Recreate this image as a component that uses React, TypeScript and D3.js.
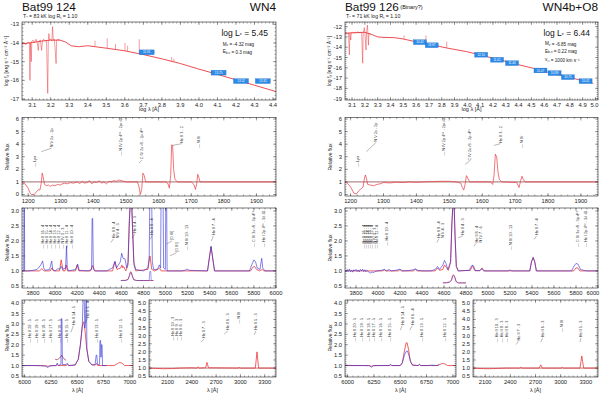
import React from "react";
import * as d3 from "d3";

type Pt = [number, number];
type Spike = [number, number, number];
type Phot = [number, number, string];
type Note = [number, number, string, number?, number?];

const FONT = "Liberation Sans, Arial, Helvetica, sans-serif";
const RED = "#ea3a40";
const BLUE = "#2626d6";
const CONT = "#7a2c2c";

// ---------- axis ticks ----------
const sedTicksA = [3.1, 3.2, 3.3, 3.4, 3.5, 3.6, 3.7, 3.8, 3.9, 4.0, 4.1, 4.2, 4.3, 4.4];
const sedTicksB = [3.1, 3.2, 3.3, 3.4, 3.5, 3.6, 3.7, 3.8, 3.9, 4.0, 4.1, 4.2, 4.3, 4.4, 4.5, 4.6, 4.7, 4.8, 4.9, 5.0];
const sedYTicksA = [-13, -14, -15, -16, -17];
const sedYTicksB = [-12, -13, -14, -15, -16, -17, -18, -19];
const uvTicks = [1200, 1300, 1400, 1500, 1600, 1700, 1800, 1900];
const uvYTicks = [0, 1, 2, 3, 4, 5, 6];
const optTicks = [3800, 4000, 4200, 4400, 4600, 4800, 5000, 5200, 5400, 5600, 5800, 6000];
const optYTicks = [0.5, 1.0, 1.5, 2.0, 2.5, 3.0];
const haTicks = [6000, 6250, 6500, 6750, 7000];
const haYTicks = [0.5, 1.0, 1.5, 2.0, 2.5, 3.0, 3.5, 4.0];
const irTicks = [2100, 2400, 2700, 3000, 3300];
const irYTicks = [0.5, 1.0, 1.5, 2.0, 2.5, 3.0, 3.5, 4.0, 4.5, 5.0];

// ---------- Bat99 124 : SED ----------
const sedModelA: Pt[] = [[3.045, -14.05], [3.1, -13.98], [3.15, -13.9], [3.2, -13.85], [3.25, -13.85], [3.28, -13.95], [3.31, -14.15], [3.35, -14.2], [3.4, -14.15], [3.5, -14.28], [3.6, -14.42], [3.7, -14.62], [3.8, -14.85], [3.9, -15.1], [4.0, -15.4], [4.1, -15.68], [4.2, -15.97], [4.3, -16.26], [4.416, -16.6]];
const sedObsA: Pt[] = [[3.045, -14.05], [3.055, -14.0], [3.065, -14.1], [3.075, -13.95], [3.085, -14.0], [3.088, -16.0], [3.091, -14.0], [3.095, -15.0], [3.098, -13.9], [3.105, -13.85], [3.112, -14.0], [3.12, -13.8], [3.127, -13.95], [3.133, -14.4], [3.137, -13.9], [3.144, -13.85], [3.151, -14.4], [3.155, -13.9], [3.162, -13.8], [3.17, -13.9], [3.177, -13.85], [3.184, -16.7], [3.187, -13.9], [3.19, -13.5], [3.194, -13.85], [3.2, -13.8], [3.206, -13.9], [3.21, -13.13], [3.214, -13.85], [3.22, -13.8], [3.229, -15.1], [3.232, -13.85], [3.24, -13.8], [3.25, -13.85]];
const sedSpikesA: Spike[] = [[3.439, -14.17, -13.88], [3.505, -14.27, -13.75], [3.55, -14.34, -14.05], [3.601, -14.42, -14.0], [3.615, -14.45, -14.15], [3.678, -14.58, -13.8], [3.853, -14.98, -14.76], [3.865, -15.01, -14.85]];
const photA: Phot[] = [[3.718, -14.5, "15.91"], [4.106, -15.59, "13.75"], [4.227, -16.04, "13.52"], [4.345, -16.04, "13.32"]];

// ---------- Bat99 124 : UV ----------
const uvA: Pt[] = [[1181, 0.9], [1190, 0.85], [1200, 0.5], [1205, 0.15], [1210, 0.0], [1218, 0.0], [1225, 0.2], [1232, 0.4], [1236, 0.35], [1240, 0.9], [1243, 1.7], [1246, 1.4], [1250, 0.8], [1256, 0.7], [1262, 0.75], [1268, 0.65], [1275, 0.75], [1282, 0.7], [1290, 0.8], [1298, 0.75], [1305, 0.85], [1312, 0.9], [1320, 0.85], [1330, 0.95], [1338, 0.9], [1345, 0.95], [1352, 1.0], [1358, 0.85], [1365, 1.05], [1372, 0.9], [1380, 0.95], [1388, 1.1], [1395, 0.85], [1402, 1.0], [1410, 0.95], [1418, 1.1], [1425, 0.9], [1432, 1.0], [1440, 0.85], [1448, 1.05], [1455, 1.0], [1462, 1.1], [1470, 1.05], [1478, 1.15], [1486, 1.1], [1494, 1.05], [1500, 1.0], [1520, 1.0], [1535, 1.0], [1540, 0.6], [1544, 0.0], [1548, 0.4], [1552, 1.7], [1556, 1.5], [1560, 1.0], [1620, 1.0], [1628, 0.9], [1633, 0.5], [1637, 1.5], [1640, 3.95], [1643, 3.9], [1646, 2.0], [1650, 1.2], [1658, 1.0], [1700, 1.0], [1708, 0.8], [1713, 0.4], [1717, 0.9], [1720, 1.6], [1723, 1.4], [1727, 1.0], [1960, 1.0]];
const uvNotesA: Note[] = [[1221, 2.2, "— Lyα"], [1272, 3.75, "N V 2s - 2p", 1240, 3.4], [1484, 3.1, "— N IV 2p ¹P° - 2p² ¹D"], [1549, 2.8, "C IV 2s ²S - 2p ²P°", 1540, 2.5], [1671, 4.1, "He II 3 - 2", 1642, 3.9], [1722, 3.7, "— N IV"]];

// ---------- Bat99 124 : optical ----------
const optModelA: Pt[] = [[3700, 1.0], [3860, 1.0], [3880, 1.08], [3900, 1.0], [3955, 1.0], [3970, 1.1], [3985, 1.0], [4040, 1.0], [4055, 1.37], [4072, 1.0], [4090, 1.0], [4100, 1.2], [4112, 1.0], [4185, 1.0], [4200, 1.2], [4215, 1.0], [4320, 1.0], [4340, 1.18], [4360, 1.0], [4520, 1.0], [4541, 1.3], [4560, 1.05], [4595, 1.1], [4604, 1.2], [4612, 1.1], [4620, 1.15], [4640, 1.0], [4660, 1.2], [4672, 2.6], [4682, 3.5], [4692, 3.5], [4702, 2.4], [4714, 1.2], [4730, 1.0], [4840, 1.05], [4859, 1.5], [4875, 1.05], [4900, 1.0], [4930, 1.05], [4945, 1.1], [4960, 1.0], [5380, 1.0], [5398, 1.5], [5411, 1.8], [5424, 1.5], [5442, 1.0], [5770, 1.0], [5790, 1.12], [5805, 1.15], [5825, 1.05], [5850, 1.0], [5875, 1.05], [5890, 1.0], [6000, 1.0]];
const optObsA: Pt[] = [[3700, 1.0], [3716, 1.0], [3718, 3.3], [3722, 3.3], [3724, 1.0], [3760, 1.0], [3800, 1.02], [3835, 1.05], [3850, 1.1], [3870, 1.2], [3887, 1.33], [3897, 1.1], [3910, 1.02], [3950, 1.05], [3969, 1.33], [3978, 1.05], [4000, 1.0], [4026, 1.08], [4040, 1.05], [4055, 1.15], [4068, 1.05], [4095, 1.1], [4103, 1.84], [4110, 1.1], [4122, 1.0], [4185, 1.05], [4204, 1.23], [4218, 1.02], [4300, 1.0], [4330, 1.05], [4335, 2.75], [4340, 2.75], [4346, 1.05], [4360, 1.0], [4470, 1.0], [4490, 1.05], [4520, 1.1], [4542, 1.33], [4556, 1.1], [4590, 1.3], [4603, 1.59], [4615, 1.42], [4633, 1.4], [4648, 1.1], [4660, 1.3], [4672, 2.7], [4682, 3.3], [4692, 3.3], [4700, 2.5], [4712, 1.3], [4730, 1.05], [4800, 1.0], [4840, 1.1], [4852, 1.5], [4857, 3.3], [4875, 3.3], [4880, 1.3], [4892, 1.05], [4925, 1.05], [4944, 1.2], [4955, 1.1], [4959, 3.3], [4978, 3.3], [4982, 1.1], [4998, 1.05], [5002, 3.3], [5010, 3.3], [5014, 1.0], [5150, 1.0], [5180, 1.03], [5192, 1.06], [5215, 1.02], [5380, 1.0], [5396, 1.4], [5412, 1.83], [5428, 1.4], [5445, 1.0], [5760, 1.0], [5780, 1.2], [5801, 1.37], [5815, 1.3], [5830, 1.1], [5855, 1.05], [5865, 1.3], [5871, 1.42], [5880, 1.1], [5900, 1.0], [6000, 1.0]];
const insetModelA: Pt[] = [[4595, 0.68], [4640, 0.69], [4660, 0.72], [4672, 0.84], [4681, 0.97], [4690, 0.96], [4700, 0.83], [4712, 0.71], [4740, 0.68], [4800, 0.68], [4890, 0.68]];
const insetObsA: Pt[] = [[4595, 0.68], [4640, 0.68], [4660, 0.71], [4672, 0.82], [4681, 0.94], [4690, 0.93], [4700, 0.8], [4712, 0.7], [4740, 0.68], [4852, 0.68], [4857, 0.98], [4866, 0.98], [4870, 0.68], [4890, 0.68]];
const optNotesA: Note[] = [[3890, 1.75, "— He II 16 - 4"], [3926, 1.75, "— He II 15 - 4"], [3963, 1.75, "— He II 14 - 4"], [3999, 1.75, "— He II 13 - 4"], [4035, 1.75, "— He II 12 - 4"], [4071, 1.75, "— N IV 3 - 3"], [4108, 1.75, "— He II 11 - 4"], [4153, 1.75, "— He II 10 - 4"], [4527, 2.09, "He II 9 - 4", 4505, 1.95], [4563, 2.09, "N V 4 - 3"], [4724, 2.27, "He II 4 - 3", 4700, 2.1], [4875, 2.2, "He II 8 - 4", 4860, 2.05], [5060, 2.03, "[O III]", 5010, 1.9], [5100, 1.64, "[O III]", 5040, 1.5], [5192, 1.7, "— N IV 10 - 13"], [5433, 2.2, "He II 7 - 4", 5415, 2.0], [5801, 1.8, "— C IV 3s ²S - 3p ²P°"], [5886, 1.8, "— He I 2p ³P° - 3d ³D"]];

// ---------- Bat99 124 : H-alpha ----------
const haModelA: Pt[] = [[5975, 1.0], [6150, 1.0], [6225, 0.97], [6260, 1.0], [6300, 1.0], [6310, 1.04], [6320, 1.0], [6395, 1.0], [6406, 1.05], [6420, 1.0], [6480, 1.02], [6510, 1.3], [6530, 2.0], [6548, 2.9], [6560, 3.1], [6572, 2.8], [6590, 1.8], [6610, 1.2], [6640, 1.03], [6670, 1.02], [6683, 1.1], [6695, 1.0], [6850, 1.0], [6875, 1.07], [6900, 1.15], [6925, 1.12], [6950, 1.0], [7030, 1.0]];
const haObsA: Pt[] = [[5975, 1.0], [6100, 1.0], [6200, 0.98], [6222, 0.9], [6235, 0.98], [6300, 1.0], [6310, 1.12], [6320, 1.0], [6345, 1.05], [6349, 3.25], [6355, 3.25], [6359, 1.05], [6395, 1.05], [6406, 1.12], [6420, 1.0], [6480, 1.03], [6510, 1.3], [6530, 2.0], [6548, 2.9], [6556, 4.3], [6566, 4.3], [6572, 2.8], [6578, 3.0], [6583, 4.3], [6588, 4.3], [6592, 1.8], [6610, 1.2], [6640, 1.03], [6670, 1.05], [6680, 1.5], [6686, 1.5], [6692, 1.05], [6712, 1.05], [6716, 2.2], [6722, 2.2], [6726, 1.4], [6730, 2.0], [6736, 2.0], [6740, 1.0], [6780, 1.0]];
const haInsetA: Pt[] = [[6290, 1.3], [6310, 1.28], [6330, 1.35], [6345, 1.45], [6352, 1.5], [6360, 1.42], [6375, 1.32], [6395, 1.25]];
const haNotesA: Note[] = [[6051, 2.1, "— He II 20 - 5"], [6118, 2.1, "— He II 19 - 5"], [6184, 2.1, "— He II 18 - 5"], [6251, 2.1, "— He II 17 - 5"], [6336, 2.1, "— He II 16 - 5"], [6403, 2.1, "— He II 15 - 5"], [6463, 2.95, "He II 14 - 5", 6440, 2.6], [6596, 3.3, "He II 6 - 4", 6575, 3.05], [6688, 2.1, "— He II 13 - 5"], [6916, 2.1, "— He II 12 - 5"]];

// ---------- Bat99 124 : IR ----------
const irA: Pt[] = [[1870, 1.0], [1950, 0.98], [2050, 0.96], [2150, 0.97], [2250, 1.0], [2400, 1.02], [2460, 1.0], [2476, 1.08], [2490, 1.0], [2570, 1.02], [2580, 1.2], [2587, 1.35], [2595, 1.2], [2605, 1.02], [2970, 1.0], [2982, 1.05], [2995, 1.0], [3185, 1.0], [3195, 1.5], [3205, 2.0], [3215, 1.5], [3225, 1.0], [3440, 1.0]];
const irNotesA: Note[] = [[2167, 2.7, "— He II 10 - 3"], [2216, 2.7, "— He II 9 - 3"], [2266, 2.7, "— He II 8 - 3"], [2550, 2.85, "He II 7 - 3", 2510, 2.6], [2846, 3.35, "He II 6 - 3", 2800, 3.1], [2982, 3.75, "— N III"], [3192, 3.35, "He II 5 - 3", 3170, 3.05]];

// ---------- Bat99 126 : SED ----------
const sedModelB: Pt[] = [[3.045, -12.65], [3.1, -12.6], [3.2, -12.55], [3.25, -12.75], [3.3, -13.0], [3.35, -13.05], [3.43, -13.07], [3.5, -13.2], [3.56, -13.37], [3.65, -13.6], [3.74, -13.81], [3.85, -14.1], [3.995, -14.43], [4.1, -14.75], [4.255, -15.24], [4.4, -15.7], [4.515, -16.05], [4.65, -16.5], [4.776, -16.87], [4.9, -17.25], [4.983, -17.51]];
const sedObsB: Pt[] = [[3.045, -12.65], [3.055, -12.6], [3.065, -12.7], [3.072, -12.6], [3.079, -14.75], [3.083, -12.65], [3.09, -13.3], [3.094, -12.6], [3.105, -12.55], [3.115, -12.65], [3.125, -12.55], [3.135, -12.6], [3.145, -12.5], [3.155, -12.6], [3.165, -12.55], [3.175, -12.6], [3.183, -15.56], [3.187, -12.6], [3.196, -12.1], [3.2, -12.55], [3.209, -14.27], [3.213, -12.6], [3.22, -11.85], [3.224, -12.6], [3.228, -13.8], [3.232, -12.65], [3.24, -12.7], [3.25, -12.75]];
const sedSpikesB: Spike[] = [[3.506, -13.22, -12.85], [3.677, -13.68, -12.85], [3.839, -14.05, -13.46]];
const photB: Phot[] = [[3.63, -13.51, "14.42"], [3.722, -13.81, "13.97"], [4.108, -14.73, "12.10"], [4.232, -15.22, "11.61"], [4.349, -15.55, "11.40"], [4.571, -16.26, "11.07"], [4.681, -16.52, "10.89"], [4.785, -16.91, "10.75"], [4.923, -17.3, "10.41"]];

// ---------- Bat99 126 : UV ----------
const uvB: Pt[] = [[1183, 1.0], [1190, 0.9], [1200, 0.6], [1210, 0.1], [1218, 0.05], [1225, 0.3], [1232, 0.45], [1238, 0.6], [1242, 1.3], [1245, 1.55], [1248, 1.3], [1252, 0.8], [1260, 0.75], [1270, 0.7], [1280, 0.8], [1290, 0.85], [1300, 0.95], [1320, 0.92], [1340, 0.98], [1360, 0.95], [1380, 1.0], [1400, 0.97], [1420, 1.0], [1440, 1.02], [1480, 1.05], [1500, 1.05], [1520, 1.0], [1535, 0.9], [1540, 0.55], [1544, 0.35], [1548, 0.8], [1552, 1.5], [1556, 1.3], [1562, 1.0], [1625, 1.0], [1632, 0.8], [1636, 1.5], [1640, 3.2], [1644, 3.0], [1648, 1.8], [1652, 1.2], [1660, 1.0], [1705, 0.95], [1712, 0.55], [1717, 1.1], [1721, 1.45], [1725, 1.2], [1730, 1.0], [1952, 1.0]];
const uvNotesB: Note[] = [[1223, 2.2, "— Lyα"], [1277, 4.2, "N V 2s - 2p", 1248, 3.4], [1484, 3.1, "— N IV 2p ¹P° - 2p² ¹D"], [1561, 2.7, "C IV 2s ²S - 2p ²P°", 1548, 2.4], [1655, 4.1, "He II 3 - 2", 1636, 3.9], [1720, 3.7, "— N IV"]];

// ---------- Bat99 126 : optical ----------
const optModelB: Pt[] = [[3700, 1.0], [4040, 1.0], [4058, 1.03], [4075, 1.0], [4185, 1.0], [4200, 1.04], [4215, 1.0], [4325, 1.0], [4340, 1.06], [4355, 1.0], [4520, 1.0], [4541, 1.1], [4560, 1.02], [4590, 1.05], [4604, 1.2], [4620, 1.12], [4640, 1.02], [4660, 1.3], [4672, 2.6], [4682, 3.3], [4692, 3.3], [4700, 2.2], [4712, 1.15], [4730, 1.0], [4840, 1.02], [4859, 1.18], [4878, 1.02], [4925, 1.0], [4945, 1.1], [4965, 1.0], [5380, 1.0], [5395, 1.3], [5411, 1.45], [5425, 1.3], [5440, 1.0], [5780, 1.0], [5800, 1.1], [5815, 1.1], [5835, 1.0], [6000, 1.0]];
const optObsB: Pt[] = [[3700, 1.02], [3710, 0.97], [3720, 1.05], [3730, 0.98], [3740, 1.06], [3750, 0.97], [3760, 1.03], [3770, 0.96], [3780, 1.04], [3790, 1.0], [3800, 1.05], [3810, 0.98], [3820, 1.03], [3830, 0.97], [3840, 1.05], [3850, 1.0], [3860, 1.06], [3870, 0.98], [3880, 1.04], [3890, 0.97], [3900, 1.02], [3920, 0.95], [3930, 0.93], [3945, 0.96], [3960, 0.95], [3980, 0.99], [4000, 1.0], [4030, 1.02], [4058, 1.05], [4080, 1.0], [4100, 1.05], [4120, 1.0], [4160, 1.02], [4200, 1.06], [4220, 1.0], [4280, 1.01], [4320, 1.04], [4340, 1.07], [4360, 1.02], [4400, 1.0], [4480, 1.0], [4520, 1.05], [4541, 1.15], [4560, 1.05], [4590, 1.2], [4604, 1.35], [4618, 1.25], [4635, 1.05], [4660, 1.3], [4672, 2.6], [4682, 3.2], [4692, 3.2], [4700, 2.2], [4712, 1.15], [4730, 1.0], [4830, 1.02], [4848, 1.15], [4859, 1.2], [4870, 1.15], [4885, 1.0], [4930, 1.02], [4945, 1.08], [4960, 1.0], [5180, 1.0], [5200, 1.03], [5220, 1.0], [5380, 1.0], [5395, 1.3], [5411, 1.45], [5425, 1.3], [5440, 1.0], [5760, 1.0], [5780, 1.15], [5800, 1.25], [5820, 1.22], [5840, 1.05], [5870, 1.02], [5900, 1.0], [6000, 1.0]];
const insetModelB: Pt[] = [[4590, 0.6], [4620, 0.61], [4650, 0.63], [4668, 0.7], [4678, 0.85], [4688, 0.87], [4698, 0.8], [4710, 0.65], [4730, 0.6], [4800, 0.6]];
const insetObsB: Pt[] = [[4590, 0.6], [4620, 0.6], [4650, 0.62], [4668, 0.68], [4678, 0.82], [4688, 0.85], [4698, 0.78], [4710, 0.64], [4730, 0.6], [4800, 0.6]];
const optNotesB: Note[] = [[3866, 1.75, "— He II 16 - 4"], [3886, 1.75, "— He II 15 - 4"], [3906, 1.75, "— He II 14 - 4"], [3926, 1.75, "— He II 13 - 4"], [3946, 1.75, "— He II 12 - 4"], [3966, 1.75, "— N IV 3 - 3"], [3987, 1.75, "— He II 11 - 4"], [4083, 1.85, "— He II 10 - 4"], [4554, 2.1, "He II 9 - 4", 4535, 1.95], [4590, 2.1, "N V 4 - 3"], [4771, 2.2, "He II 4 - 3", 4727, 2.1], [4893, 1.95, "He II 8 - 4", 4870, 1.82], [4938, 1.95, "N IV 7 - 6"], [5210, 1.7, "— N IV 10 - 13"], [5442, 2.2, "He II 7 - 4", 5420, 2.05], [5813, 1.8, "— C IV 3s ²S - 3p ²P°"], [5889, 1.8, "— He I 2p ³P° - 3d ³D"]];

// ---------- Bat99 126 : H-alpha ----------
const haModelB: Pt[] = [[5975, 1.0], [6200, 1.0], [6225, 0.97], [6250, 1.0], [6395, 1.0], [6406, 1.04], [6420, 1.0], [6500, 1.0], [6520, 1.15], [6540, 1.7], [6555, 2.08], [6565, 2.1], [6578, 1.8], [6595, 1.25], [6615, 1.02], [6670, 1.0], [6683, 1.05], [6695, 1.0], [6860, 1.0], [6880, 1.06], [6900, 1.1], [6925, 1.08], [6950, 1.0], [7030, 1.0]];
const haObsB: Pt[] = [[5975, 1.02], [6050, 1.0], [6150, 1.0], [6210, 0.99], [6228, 0.92], [6245, 0.99], [6300, 1.0], [6395, 1.0], [6406, 1.05], [6420, 1.0], [6500, 1.0], [6520, 1.12], [6540, 1.5], [6555, 1.68], [6568, 1.7], [6582, 1.5], [6600, 1.15], [6620, 1.02], [6670, 1.0], [6683, 1.06], [6695, 1.0], [6760, 1.0], [6800, 1.02], [6850, 1.0], [6870, 1.06]];
const haNotesB: Note[] = [[6071, 2.15, "— He II 20 - 5"], [6135, 2.15, "— He II 19 - 5"], [6198, 2.15, "— He II 18 - 5"], [6246, 2.15, "— He II 17 - 5"], [6311, 2.15, "— He II 16 - 5"], [6400, 2.15, "— He II 15 - 5"], [6519, 2.95, "He II 14 - 5", 6500, 2.7], [6614, 2.95, "He II 6 - 4", 6590, 2.7], [6701, 2.15, "— He II 13 - 5"], [6924, 2.15, "— He II 12 - 5"]];

// ---------- Bat99 126 : IR ----------
const irB: Pt[] = [[1955, 1.0], [2050, 0.97], [2150, 0.96], [2250, 0.98], [2350, 1.0], [2510, 1.0], [2525, 1.05], [2540, 1.0], [2745, 1.0], [2755, 1.12], [2763, 1.2], [2771, 1.12], [2781, 1.0], [3005, 1.0], [3020, 1.05], [3035, 1.0], [3230, 1.0], [3242, 1.4], [3252, 1.75], [3262, 1.4], [3274, 1.0], [3445, 1.0]];
const irNotesB: Note[] = [[2237, 2.6, "— He II 10 - 3"], [2297, 2.6, "— He II 9 - 3"], [2356, 2.6, "— He II 8 - 3"], [2495, 2.7, "He II 7 - 3", 2470, 2.45], [2785, 2.9, "He II 6 - 3", 2762, 2.6], [3012, 3.23, "— N III"], [3242, 2.9, "He II 5 - 3", 3230, 2.6]];

type Box = { l: number; r: number; t: number; b: number };
type Sc = d3.ScaleLinear<number, number>;

function Panel(props: {
  id: string; box: Box; xd: [number, number]; yd: [number, number];
  xt: number[]; yt: number[]; xm: number; ym: number;
  fx: (v: number) => string; fy: (v: number) => string;
  notes?: Note[]; draw: (x: Sc, y: Sc) => React.ReactNode;
}) {
  const { id, box, xd, yd, xt, yt, xm, ym, fx, fy, notes, draw } = props;
  const x = d3.scaleLinear().domain(xd).range([box.l, box.r]);
  const y = d3.scaleLinear().domain(yd).range([box.b, box.t]);
  const mx = d3.range(Math.ceil(xd[0] / xm - 1e-6), Math.floor(xd[1] / xm + 1e-6) + 1).map((i) => i * xm);
  const my = d3.range(Math.ceil(yd[0] / ym - 1e-6), Math.floor(yd[1] / ym + 1e-6) + 1).map((i) => i * ym);
  const ticks: string[] = [];
  mx.forEach((v) => { const p = x(v); ticks.push(`M${p},${box.b}v-1.5M${p},${box.t}v1.5`); });
  my.forEach((v) => { const p = y(v); ticks.push(`M${box.l},${p}h1.5M${box.r},${p}h-1.5`); });
  xt.forEach((v) => { const p = x(v); ticks.push(`M${p},${box.b}v-3M${p},${box.t}v3`); });
  yt.forEach((v) => { const p = y(v); ticks.push(`M${box.l},${p}h3M${box.r},${p}h-3`); });
  return (
    <g>
      <clipPath id={id}>
        <rect x={box.l} y={box.t} width={box.r - box.l} height={box.b - box.t} />
      </clipPath>
      <g clipPath={`url(#${id})`}>{draw(x, y)}</g>
      {notes && notes.map((n, i) => (
        <g key={i}>
          {n[3] !== undefined && (
            <line x1={x(n[3]!)} y1={y(n[4]!)} x2={x(n[0])} y2={y(n[1]) + 0.8} stroke="#333" strokeWidth={0.35} />
          )}
          <text transform={`translate(${x(n[0]) + 1.3},${y(n[1])}) rotate(-90)`} fontSize={3.8} fill="#333">{n[2]}</text>
        </g>
      ))}
      <rect x={box.l} y={box.t} width={box.r - box.l} height={box.b - box.t} fill="none" stroke="#222" strokeWidth={0.6} />
      <path d={ticks.join("")} stroke="#222" strokeWidth={0.4} fill="none" />
      {xt.map((v) => {
        const s = fx(v);
        const half = s.length * 1.65;
        return (
          <text key={"x" + v} x={Math.min(x(v), 599.5 - half)} y={box.b + 6.5} fontSize={5.8} textAnchor="middle" fill="#222">{s}</text>
        );
      })}
      {yt.map((v) => (
        <text key={"y" + v} x={box.l - 3} y={y(v) + 2} fontSize={5.8} textAnchor="end" fill="#222">{fy(v)}</text>
      ))}
    </g>
  );
}

const lineOf = (x: Sc, y: Sc) => d3.line<Pt>().x((d) => x(d[0])).y((d) => y(d[1]));
const f1 = (v: number) => v.toFixed(1);
const f0 = (v: number) => String(v);

function Star(p: {
  ox: number; name: string; extra?: string; type: string; teff: string; logL: string; info: React.ReactNode[];
  sedX: [number, number]; sedY: [number, number]; sedTicks: number[]; sedYTicks: number[];
  sedModel: Pt[]; sedObs: Pt[]; sedSpikes: Spike[]; phot: Phot[]; photW: number;
  uvX: [number, number]; uv: Pt[]; uvNotes: Note[];
  optModel: Pt[]; optObs: Pt[]; insetModel: Pt[]; insetObs: Pt[]; optNotes: Note[];
  haModel: Pt[]; haObs: Pt[]; haInset?: Pt[]; haNotes: Note[];
  irX: [number, number]; ir: Pt[]; irNotes: Note[];
  left: number; ylab: number;
}) {
  const L = p.left;
  const R = p.ox + 276 + (p.ox ? 22 : 0);
  const sed: Box = { l: L, r: R, t: 22, b: 100 };
  const uvB: Box = { l: L, r: R, t: 117.5, b: 196 };
  const opt: Box = { l: L, r: R, t: 208, b: 288 };
  const ha: Box = { l: L, r: L + 111, t: 300, b: 377 };
  const irb: Box = { l: p.ox ? 473 : 149, r: R, t: 300, b: 377 };
  const id = p.ox ? "b" : "a";
  const ylab = (cy: number, s: React.ReactNode, dx = 0) => (
    <text transform={`translate(${p.ylab + dx},${cy}) rotate(-90)`} fontSize={5} textAnchor="middle" fill="#222">{s}</text>
  );
  return (
    <g>
      <text x={L} y={10.8} fontSize={11.8} fill="#111">
        {p.name}
        {p.extra && <tspan fontSize={5.5} dx={1.5} dy={-1.5}>{p.extra}</tspan>}
      </text>
      <text x={R} y={10.8} fontSize={11.8} textAnchor="end" fill="#111">{p.type}</text>
      <text x={L + 1} y={18.4} fontSize={5.2} fill="#222">
        T<tspan fontSize={3.6} dy={1}>*</tspan><tspan dy={-1}> = {p.teff} kK   log R</tspan><tspan fontSize={3.6} dy={1}>t</tspan><tspan dy={-1}> = 1.10</tspan>
      </text>

      <Panel id={id + "sed"} box={sed} xd={p.sedX} yd={p.sedY} xt={p.sedTicks} yt={p.sedYTicks} xm={0.02} ym={0.2} fx={f1} fy={f0}
        draw={(x, y) => {
          const ln = lineOf(x, y);
          return (
            <g>
              <path d={ln(p.sedObs) ?? ""} fill="none" stroke={RED} strokeWidth={0.5} />
              <path d={ln(p.sedModel) ?? ""} fill="none" stroke={RED} strokeWidth={0.9} />
              <path d={p.sedSpikes.map((s) => `M${x(s[0])},${y(s[1])}V${y(s[2])}`).join("")} stroke={RED} strokeWidth={0.5} />
              {p.phot.map((b, i) => (
                <g key={i}>
                  <rect x={x(b[0]) - p.photW / 2} y={y(b[1]) - 2.4} width={p.photW} height={4.8} fill="#2a8ae6" stroke="#1b64c4" strokeWidth={0.3} />
                  <text x={x(b[0])} y={y(b[1]) + 1.1} fontSize={3} fill="#fff" textAnchor="middle">{b[2]}</text>
                </g>
              ))}
            </g>
          );
        }} />
      <text x={R - 8} y={35.5} fontSize={8.5} textAnchor="end" fill="#111">
        log L<tspan fontSize={5} dy={1.5}>*</tspan><tspan dy={-1.5}> = {p.logL}</tspan>
      </text>
      {p.info}
      <text x={(L + R) / 2} y={111} fontSize={5.5} textAnchor="middle" fill="#222">log λ [Å]</text>
      {ylab(61, <>log f<tspan fontSize={3.6} dy={1}>λ</tspan><tspan dy={-1}> [erg s⁻¹ cm⁻² Å⁻¹]</tspan></>, -1)}

      <Panel id={id + "uv"} box={uvB} xd={p.uvX} yd={[-0.12, 6.12]} xt={uvTicks} yt={uvYTicks} xm={20} ym={0.2} fx={f0} fy={f0} notes={p.uvNotes}
        draw={(x, y) => (
          <g>
            <line x1={uvB.l} x2={uvB.r} y1={y(1)} y2={y(1)} stroke={CONT} strokeWidth={0.7} />
            <path d={lineOf(x, y)(p.uv) ?? ""} fill="none" stroke={RED} strokeWidth={0.7} />
          </g>
        )} />
      {ylab(157, "Relative flux")}

      <Panel id={id + "opt"} box={opt} xd={[3700, 6000]} yd={[0.43, 3.1]} xt={optTicks} yt={optYTicks} xm={50} ym={0.1} fx={f0} fy={f1} notes={p.optNotes}
        draw={(x, y) => {
          const ln = lineOf(x, y);
          return (
            <g>
              <path d={ln(p.optModel) ?? ""} fill="none" stroke={RED} strokeWidth={0.8} />
              <path d={ln(p.optObs) ?? ""} fill="none" stroke={BLUE} strokeWidth={0.7} opacity={0.82} />
              <path d={ln(p.insetModel) ?? ""} fill="none" stroke={RED} strokeWidth={0.7} />
              <path d={ln(p.insetObs) ?? ""} fill="none" stroke={BLUE} strokeWidth={0.6} opacity={0.75} />
            </g>
          );
        }} />
      {ylab(248, "Relative flux")}

      <Panel id={id + "ha"} box={ha} xd={[5975, 7030]} yd={[0.45, 4.15]} xt={haTicks} yt={haYTicks} xm={50} ym={0.1} fx={f0} fy={f1} notes={p.haNotes}
        draw={(x, y) => {
          const ln = lineOf(x, y);
          return (
            <g>
              <path d={ln(p.haModel) ?? ""} fill="none" stroke={RED} strokeWidth={0.8} />
              {p.haInset && <path d={ln(p.haInset) ?? ""} fill="none" stroke="#a02a5a" strokeWidth={0.7} />}
              <path d={ln(p.haObs) ?? ""} fill="none" stroke={BLUE} strokeWidth={0.7} opacity={0.82} />
            </g>
          );
        }} />
      {ylab(338, "Relative flux")}
      <text x={(ha.l + ha.r) / 2} y={392} fontSize={5.5} textAnchor="middle" fill="#222">λ [Å]</text>

      <Panel id={id + "ir"} box={irb} xd={p.irX} yd={[0.45, 5.2]} xt={irTicks} yt={irYTicks} xm={50} ym={0.1} fx={f0} fy={f1} notes={p.irNotes}
        draw={(x, y) => (
          <g>
            <line x1={irb.l} x2={irb.r} y1={y(1)} y2={y(1)} stroke={CONT} strokeWidth={0.6} />
            <path d={lineOf(x, y)(p.ir) ?? ""} fill="none" stroke={RED} strokeWidth={0.8} />
          </g>
        )} />
      <text x={(irb.l + irb.r) / 2} y={392} fontSize={5.5} textAnchor="middle" fill="#222">λ [Å]</text>
    </g>
  );
}

const sub = (s: string) => <tspan fontSize={3.2} dy={0.8}>{s}</tspan>;
const back = <tspan dy={-0.8}>{""}</tspan>;

export default function App() {
  const infoA = [
    <text key="m" x={222.7} y={45.5} fontSize={4.6} fill="#222">M{sub("v")}{back} = -4.32 mag</text>,
    <text key="e" x={222.7} y={53} fontSize={4.6} fill="#222">E{sub("b-v")}{back} = 0.3 mag</text>,
  ];
  const infoB = [
    <text key="m" x={545} y={45} fontSize={4.6} fill="#222">M{sub("v")}{back} = -6.85 mag</text>,
    <text key="e" x={545} y={52.5} fontSize={4.6} fill="#222">E{sub("b-v")}{back} = 0.22 mag</text>,
    <text key="v" x={545} y={61} fontSize={4.6} fill="#222">v{sub("∞")}{back} = 1000 km s⁻¹</text>,
  ];
  return (
    <svg width={600} height={394} style={{ position: "absolute", left: 0, top: 0, background: "#fff" }} fontFamily={FONT}>
      <Star ox={0} left={22} ylab={8.5} name="Bat99 124" type="WN4" teff="83" logL="5.45" info={infoA}
        sedX={[3.045, 4.416]} sedY={[-17.05, -12.88]} sedTicks={sedTicksA} sedYTicks={sedYTicksA}
        sedModel={sedModelA} sedObs={sedObsA} sedSpikes={sedSpikesA} phot={photA} photW={15}
        uvX={[1181, 1960]} uv={uvA} uvNotes={uvNotesA}
        optModel={optModelA} optObs={optObsA} insetModel={insetModelA} insetObs={insetObsA} optNotes={optNotesA}
        haModel={haModelA} haObs={haObsA} haInset={haInsetA} haNotes={haNotesA}
        irX={[1870, 3440]} ir={irA} irNotes={irNotesA} />
      <Star ox={300} left={345} ylab={332} name="Bat99 126" extra="(Binary?)" type="WN4b+O8" teff="71" logL="6.44" info={infoB}
        sedX={[3.045, 5.02]} sedY={[-19.13, -11.55]} sedTicks={sedTicksB} sedYTicks={sedYTicksB}
        sedModel={sedModelB} sedObs={sedObsB} sedSpikes={sedSpikesB} phot={photB} photW={13}
        uvX={[1183, 1952]} uv={uvB} uvNotes={uvNotesB}
        optModel={optModelB} optObs={optObsB} insetModel={insetModelB} insetObs={insetObsB} optNotes={optNotesB}
        haModel={haModelB} haObs={haObsB} haNotes={haNotesB}
        irX={[1955, 3445]} ir={irB} irNotes={irNotesB} />
    </svg>
  );
}
